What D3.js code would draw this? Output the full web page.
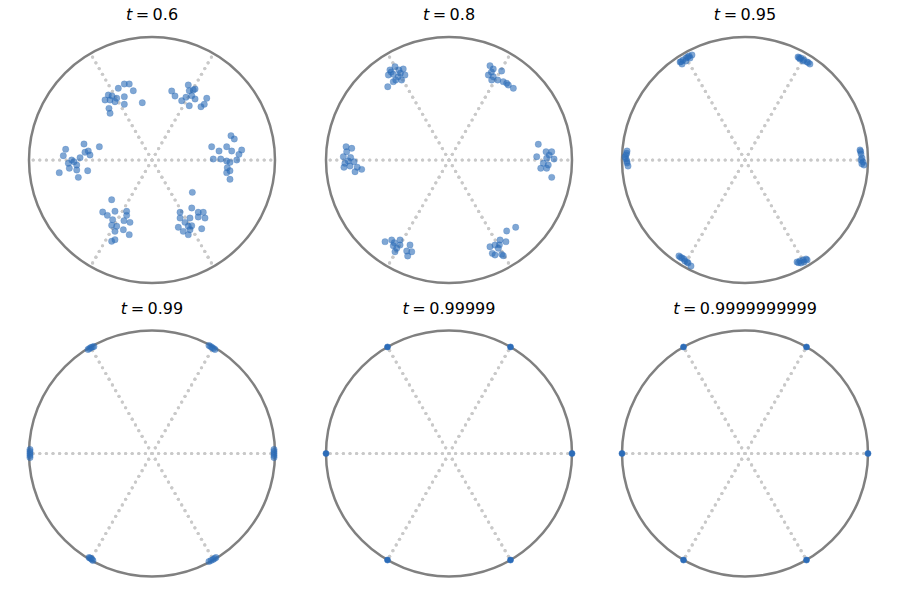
<!DOCTYPE html>
<html><head><meta charset="utf-8">
<script src="https://cdn.jsdelivr.net/npm/d3@7"></script>
<style>body{margin:0;background:#fff}svg{display:block}</style>
</head><body>
<svg id="chart" width="897" height="598"></svg>
<script>
const titles = ["0.6", "0.8", "0.95", "0.99", "0.99999", "0.9999999999"];
const directions = [0, 60, 120, 180, 240, 300];

const pointsT06 = [
  [-0.274,0.583],[-0.225,0.618],[-0.185,0.618],[-0.152,0.563],[-0.355,0.528],[-0.382,0.488],[-0.341,0.488],[-0.301,0.474],[-0.287,0.502],[-0.225,0.515],[-0.225,0.453],[-0.079,0.466],[-0.350,0.420],[-0.341,0.380],[-0.325,0.520],
  [0.295,0.610],[0.303,0.563],[0.350,0.577],[0.160,0.561],[0.187,0.520],[0.241,0.482],[0.276,0.510],[0.323,0.523],[0.350,0.496],[0.445,0.502],[0.303,0.441],[0.398,0.433],[0.425,0.453],[0.336,0.569],
  [-0.553,0.130],[-0.702,0.087],[-0.428,0.108],[-0.545,0.063],[-0.518,0.073],[-0.504,0.041],[-0.721,0.035],[-0.653,0.000],[-0.634,-0.014],[-0.680,-0.027],[-0.585,0.019],[-0.612,-0.041],[-0.672,-0.067],[-0.612,-0.081],[-0.754,-0.103],[-0.523,-0.087],[-0.599,-0.141],
  [0.642,0.198],[0.669,0.171],[0.485,0.108],[0.607,0.108],[0.545,0.073],[0.648,0.073],[0.729,0.081],[0.707,0.046],[0.498,0.008],[0.559,0.008],[0.607,-0.008],[0.634,-0.019],[0.689,0.000],[0.612,-0.063],[0.607,-0.103],[0.634,-0.087],[0.634,-0.157],
  [-0.328,-0.323],[-0.401,-0.423],[-0.363,-0.450],[-0.301,-0.417],[-0.320,-0.485],[-0.206,-0.417],[-0.206,-0.450],[-0.228,-0.493],[-0.179,-0.507],[-0.328,-0.531],[-0.287,-0.539],[-0.233,-0.567],[-0.301,-0.580],[-0.185,-0.607],[-0.328,-0.661],[-0.301,-0.648],
  [0.328,-0.263],[0.323,-0.390],[0.228,-0.425],[0.376,-0.425],[0.417,-0.425],[0.228,-0.472],[0.309,-0.472],[0.376,-0.463],[0.431,-0.472],[0.268,-0.507],[0.214,-0.547],[0.254,-0.580],[0.295,-0.539],[0.323,-0.534],[0.309,-0.567],[0.404,-0.559],[0.295,-0.607]
];

const pointsT08 = [
  [-0.480,0.732],[-0.439,0.759],[-0.407,0.732],[-0.372,0.740],[-0.493,0.691],[-0.453,0.697],[-0.412,0.677],[-0.358,0.691],[-0.433,0.650],[-0.385,0.650],[-0.498,0.596],[-0.453,0.637],[-0.470,0.715],[-0.395,0.705],
  [0.333,0.767],[0.360,0.740],[0.428,0.724],[0.320,0.691],[0.360,0.677],[0.347,0.650],[0.396,0.650],[0.441,0.637],[0.482,0.610],[0.523,0.583],[0.469,0.624],[0.345,0.715],
  [-0.837,0.108],[-0.791,0.095],[-0.832,0.067],[-0.859,0.027],[-0.819,-0.008],[-0.772,-0.014],[-0.846,-0.027],[-0.854,-0.059],[-0.805,-0.049],[-0.746,-0.059],[-0.710,-0.076],[-0.764,-0.095],[-0.800,0.020],
  [0.726,0.128],[0.789,0.067],[0.835,0.067],[0.713,0.027],[0.794,0.014],[0.854,0.008],[0.767,-0.027],[0.807,-0.041],[0.746,-0.067],[0.794,-0.067],[0.835,-0.141],[0.815,0.040],
  [-0.520,-0.664],[-0.466,-0.650],[-0.398,-0.650],[-0.453,-0.697],[-0.425,-0.718],[-0.398,-0.691],[-0.344,-0.740],[-0.317,-0.691],[-0.303,-0.746],[-0.336,-0.780],[-0.439,-0.746],[-0.445,-0.672],
  [0.542,-0.547],[0.469,-0.577],[0.415,-0.650],[0.463,-0.664],[0.333,-0.705],[0.374,-0.691],[0.401,-0.718],[0.352,-0.759],[0.428,-0.767],[0.374,-0.772],[0.441,-0.778],[0.410,-0.690]
];

const pointsT095 = [
  [-0.528,0.797],[-0.504,0.813],[-0.480,0.829],[-0.455,0.846],[-0.431,0.854],[-0.512,0.780],[-0.480,0.805],[-0.447,0.829],[-0.520,0.800],[-0.465,0.838],
  [0.431,0.837],[0.455,0.829],[0.480,0.813],[0.504,0.797],[0.528,0.780],[0.472,0.805],[0.447,0.821],[0.440,0.832],[0.515,0.792],
  [0.935,0.081],[0.943,0.049],[0.951,0.016],[0.959,-0.016],[0.967,-0.041],[0.943,0.000],[0.950,-0.030],[0.940,0.070],
  [-0.959,0.073],[-0.967,0.041],[-0.967,0.008],[-0.959,-0.024],[-0.951,-0.049],[-0.976,0.024],[-0.960,-0.010],[-0.962,0.055],
  [-0.537,-0.780],[-0.512,-0.797],[-0.488,-0.821],[-0.463,-0.837],[-0.439,-0.862],[-0.496,-0.805],[-0.525,-0.790],[-0.470,-0.830],
  [0.423,-0.829],[0.447,-0.821],[0.472,-0.813],[0.496,-0.805],[0.455,-0.837],[0.480,-0.829],[0.435,-0.835],[0.505,-0.812]
];

const pointsT099 = [
  [-0.520,0.846],[-0.508,0.854],[-0.496,0.862],[-0.484,0.866],[-0.472,0.870],
  [0.463,0.878],[0.476,0.870],[0.488,0.862],[0.500,0.854],[0.512,0.846],
  [-0.992,0.033],[-0.992,0.016],[-0.992,0.000],[-0.992,-0.016],[-0.992,-0.033],
  [0.992,0.033],[0.992,0.016],[0.992,0.000],[0.992,-0.016],[0.992,-0.033],
  [-0.512,-0.846],[-0.504,-0.850],[-0.496,-0.854],[-0.488,-0.862],[-0.480,-0.870],
  [0.463,-0.878],[0.480,-0.870],[0.496,-0.862],[0.508,-0.854],[0.520,-0.846]
];

const pointsT099999 = [
  [1.0,0.0],[0.5,0.866],[-0.5,0.866],[-1.0,0.0],[-0.5,-0.866],[0.5,-0.866]
];

const pointsT0999 = [
  [1.0,0.0],[0.5,0.866],[-0.5,0.866],[-1.0,0.0],[-0.5,-0.866],[0.5,-0.866]
];

const panelPoints = [pointsT06, pointsT08, pointsT095, pointsT099, pointsT099999, pointsT0999];

const svg = d3.select("#chart");
const centersX = [152, 449, 745];
const centersY = [160, 453.5];
const R = 123;

panelPoints.forEach((pts, i) => {
  const cx = centersX[i % 3], cy = centersY[Math.floor(i / 3)];
  const x = d3.scaleLinear().domain([-1, 1]).range([cx - R, cx + R]);
  const y = d3.scaleLinear().domain([-1, 1]).range([cy + R, cy - R]);
  const g = svg.append("g");

  // dotted reference lines: dots placed along each diameter
  const step = 6.6 / R;
  const nDots = Math.floor(0.97 / step);
  directions.forEach(a => {
    const rad = a * Math.PI / 180;
    const ts = d3.range(-nDots, nDots + 1).map(k => k * step);
    g.selectAll(null).data(ts).enter().append("circle")
      .attr("cx", t => x(t * Math.cos(rad)))
      .attr("cy", t => y(t * Math.sin(rad)))
      .attr("r", 1.6)
      .attr("fill", "#c9c9c9");
  });

  g.append("circle")
    .attr("cx", x(0)).attr("cy", y(0)).attr("r", x(1) - x(0))
    .attr("fill", "none").attr("stroke", "#808080").attr("stroke-width", 2.5);

  g.selectAll("circle.pt").data(pts).enter().append("circle")
    .attr("class", "pt")
    .attr("cx", d => x(d[0])).attr("cy", d => y(d[1]))
    .attr("r", i < 4 ? 3.2 : 3)
    .attr("fill", "#2c6cb8").attr("fill-opacity", i < 4 ? 0.6 : 1)
    .attr("stroke", "#2c6cb8").attr("stroke-opacity", i < 4 ? 0.35 : 1).attr("stroke-width", 0.6);

  const title = svg.append("text")
    .attr("x", cx).attr("y", cy - R - 17)
    .attr("text-anchor", "middle")
    .attr("font-family", "DejaVu Sans, sans-serif")
    .attr("font-size", 16).attr("fill", "#000");
  title.append("tspan").attr("font-style", "italic").text("t");
  title.append("tspan").attr("dx", 3.5).text("=");
  title.append("tspan").attr("dx", 3.5).text(titles[i]);
});
</script>
</body></html>
